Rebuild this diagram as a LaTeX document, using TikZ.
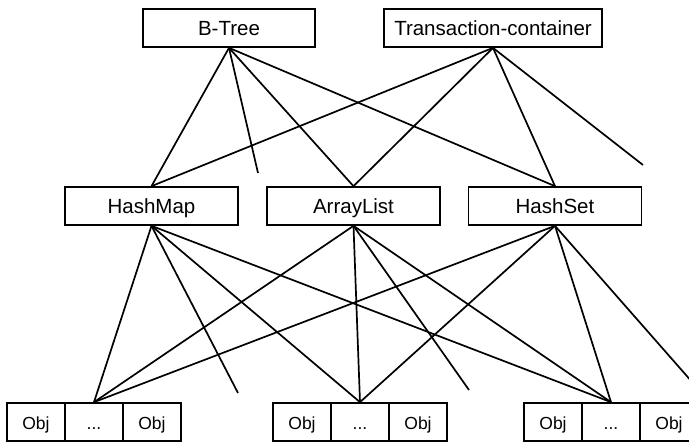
\documentclass[tikz,border=0pt]{standalone}
\usepackage{fontspec}
\setmainfont{Liberation Sans}
\begin{document}
\begin{tikzpicture}[x=1pt,y=-1pt,
  box/.style={draw, line width=1.7pt, rectangle, minimum width=173pt, minimum height=38pt, inner sep=0pt, text height=15pt, text depth=1pt, font=\fontsize{20.5}{24}\selectfont},
  cell/.style={draw, line width=1.7pt, rectangle, minimum width=58pt, minimum height=38pt, inner sep=0pt, text height=14.5pt, text depth=0.5pt, font=\fontsize{17.5}{20}\selectfont},
  link/.style={line width=1.7pt}]
\useasboundingbox (0,0) rectangle (689,442);
\clip (0,0) rectangle (689,442);
% top row
\node[box, minimum width=172pt] (bt) at (229,28) {B-Tree};
\node[box, minimum width=218pt] (tc) at (493,28) {Transaction-container};
% middle row
\node[box] (hm) at (151.5,206) {HashMap};
\node[box] (al) at (353.5,206) {ArrayList};
\node[box] (hs) at (555,206) {HashSet};
% bottom groups
\node[cell] (g1a) at (36,422) {Obj};
\node[cell] (g1b) at (94,422) {...};
\node[cell] (g1c) at (152,422) {Obj};
\node[cell] (g2a) at (302,422) {Obj};
\node[cell] (g2b) at (360,422) {...};
\node[cell] (g2c) at (418,422) {Obj};
\node[cell] (g3a) at (553,422) {Obj};
\node[cell] (g3b) at (611,422) {...};
\node[cell] (g3c) at (669,422) {Obj};
% free ends
\coordinate (btd) at (258,173);
\coordinate (tcd) at (643,165);
\coordinate (hmd) at (238,393);
\coordinate (ald) at (469,390);
\coordinate (hsd) at (700,391);
% top links
\draw[link] (bt.south) -- (hm.north);
\draw[link] (bt.south) -- (btd);
\draw[link] (bt.south) -- (al.north);
\draw[link] (bt.south) -- (hs.north);
\draw[link] (tc.south) -- (hm.north);
\draw[link] (tc.south) -- (al.north);
\draw[link] (tc.south) -- (hs.north);
\draw[link] (tc.south) -- (tcd);
% bottom links
\draw[link] (hm.south) -- (g1b.north);
\draw[link] (hm.south) -- (hmd);
\draw[link] (hm.south) -- (g2b.north);
\draw[link] (hm.south) -- (g3b.north);
\draw[link] (al.south) -- (g1b.north);
\draw[link] (al.south) -- (g2b.north);
\draw[link] (al.south) -- (ald);
\draw[link] (al.south) -- (g3b.north);
\draw[link] (hs.south) -- (g1b.north);
\draw[link] (hs.south) -- (g2b.north);
\draw[link] (hs.south) -- (g3b.north);
\draw[link] (hs.south) -- (hsd);
\end{tikzpicture}
\end{document}
